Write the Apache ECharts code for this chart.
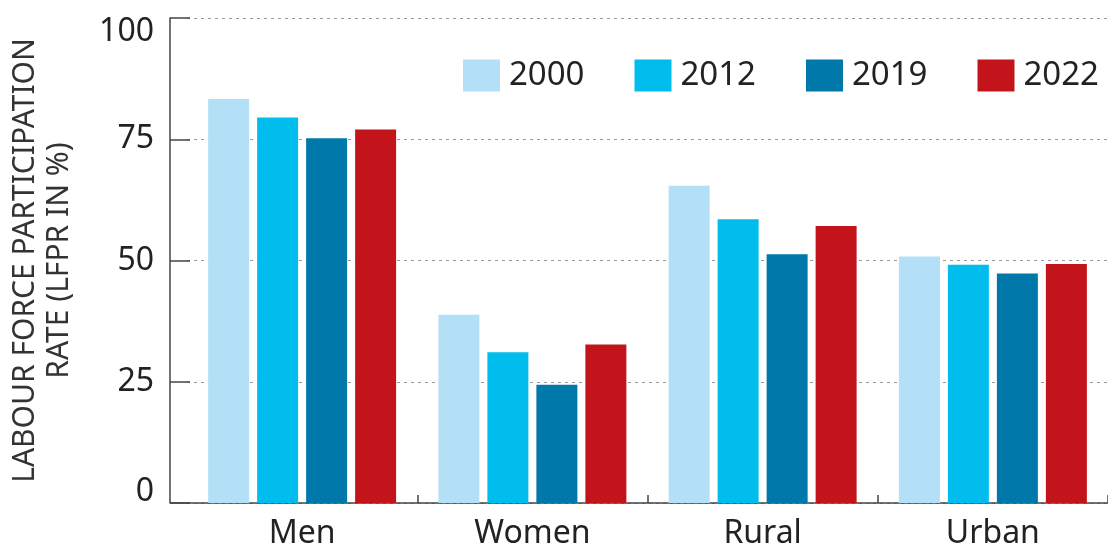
<!DOCTYPE html>
<html>
<head>
<meta charset="utf-8">
<script src="https://cdn.jsdelivr.net/npm/echarts@6/dist/echarts.min.js"></script>
<style>html,body{margin:0;padding:0;background:#fff;}#c{width:1108px;height:550px;}</style>
</head>
<body>
<div id="c"></div>
<script>
var categories = ['Men', 'Women', 'Rural', 'Urban'];
var years = ['2000', '2012', '2019', '2022'];
var v2000 = [83.3, 38.8, 65.4, 50.8];
var v2012 = [79.5, 31.1, 58.5, 49.1];
var v2019 = [75.2, 24.4, 51.3, 47.3];
var v2022 = [77.0, 32.7, 57.1, 49.3];
var yTicks = [0, 25, 50, 75, 100];
var colors = ['#b3e0f6', '#00bdee', '#0078aa', '#c3141c'];
var seriesValues = [v2000, v2012, v2019, v2022];

var font = 'Noto Sans';
var chart = echarts.init(document.getElementById('c'), null, {renderer: 'canvas'});
var GRID_LEFT = 181, Y_OFFSET = 17;
var option = {
  animation: false,
  textStyle: {fontFamily: font},
  grid: {left: GRID_LEFT, right: 0, top: 18, bottom: 45, containLabel: false},
  legend: {
    right: 4, top: 54,
    itemWidth: 37, itemHeight: 32, itemGap: 50,
    icon: 'rect',
    textStyle: {fontSize: 33, color: '#222', fontFamily: font, padding: [0, 0, 0, 4]},
    data: years
  },
  xAxis: {
    type: 'category',
    data: categories,
    axisLine: {lineStyle: {color: '#444', width: 1.5}},
    axisTick: {show: true, inside: true, length: 8, lineStyle: {color: '#444', width: 1.5},
      interval: function (i) { return i !== 0; }},
    axisLabel: {fontSize: 32, color: '#222', margin: 15, fontFamily: font}
  },
  yAxis: {
    type: 'value',
    min: 0, max: 100, interval: 25,
    offset: Y_OFFSET,
    name: 'LABOUR FORCE PARTICIPATION\nRATE (LFPR IN %)',
    nameLocation: 'middle',
    nameGap: 94,
    nameTextStyle: {fontSize: 30, color: '#333', lineHeight: 34, fontFamily: font},
    axisLine: {show: true, lineStyle: {color: '#444', width: 1.5}},
    axisTick: {show: true, inside: true, length: 20, lineStyle: {color: '#444', width: 1.5}},
    axisLabel: {
      fontSize: 32, color: '#222', margin: 16, fontFamily: font,
      formatter: function (v) {
        if (v === 100) return '{t|' + v + '}';
        if (v === 0) return '{b|' + v + '}';
        return '' + v;
      },
      rich: {
        t: {fontSize: 32, color: '#222', fontFamily: font, padding: [28, 0, 0, 0]},
        b: {fontSize: 32, color: '#222', fontFamily: font, padding: [0, 0, 22, 0]}
      }
    },
    splitLine: {show: true, lineStyle: {color: '#9a9a9a', type: [3, 4], width: 1.2}}
  },
  series: years.map(function (y, i) {
    return {
      name: y, type: 'bar',
      data: seriesValues[i],
      barWidth: 41, barGap: '19.5%',
      itemStyle: {color: colors[i]}
    };
  })
};
chart.setOption(option);
// extend x-axis line to the offset y-axis
var gridRect = chart.getModel().getComponent('grid').coordinateSystem.getRect();
chart.setOption({
  graphic: [{
    type: 'line', silent: true,
    shape: {x1: gridRect.x - Y_OFFSET, y1: gridRect.y + gridRect.height, x2: gridRect.x, y2: gridRect.y + gridRect.height},
    style: {stroke: '#444', lineWidth: 1.5}
  }]
});
</script>
</body>
</html>
